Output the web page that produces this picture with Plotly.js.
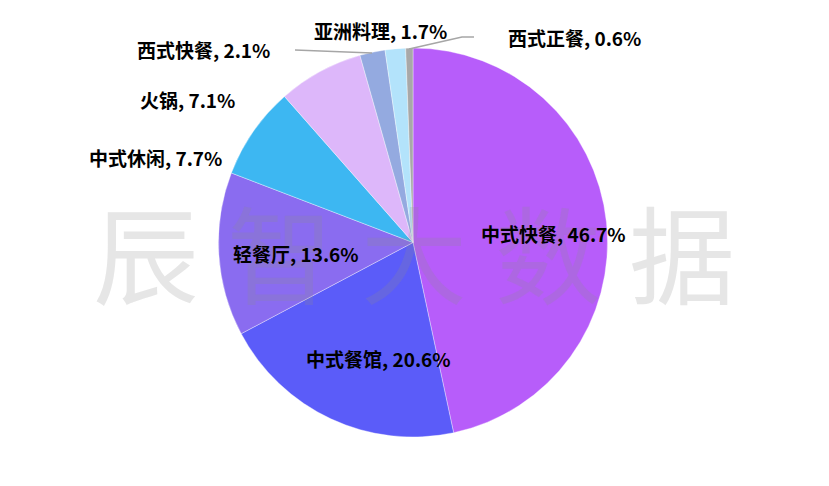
<!DOCTYPE html>
<html>
<head>
<meta charset="utf-8">
<script src="https://cdn.plot.ly/plotly-3.0.1.min.js"></script>
<style>html,body{margin:0;padding:0;background:#fff;}#chart{width:829px;height:486px;}</style>
</head>
<body>
<div id="chart"></div>
<script>
// ---- data ----
var categories = ['中式快餐', '中式餐馆', '轻餐厅', '中式休闲', '火锅', '西式快餐', '亚洲料理', '西式正餐'];
var shares = [46.7, 20.6, 13.6, 7.7, 7.1, 2.1, 1.7, 0.6];
var sliceColors = ['#B75DFA', '#5B5CF9', '#8A6CF0', '#3DB7F2', '#DDB7FA', '#94AAE0', '#B3E3FB', '#A8A8A8'];
var watermarkChars = ['辰', '智', '大', '数', '据'];

// ---- layout helpers (pixel -> paper) ----
var W = 829, H = 486;
function px(x) { return x / W; }
function py(y) { return 1 - y / H; }

var labelText = categories.map(function (c, i) { return c + ', ' + shares[i] + '%'; });

// label positions (pixel centers), index matches categories
var labelPos = [[553, 234], [378, 358], [296, 253], [155, 158], [187, 100], [203, 50], [380, 30], [574, 38]];

var labelFont = {family: '"Noto Sans CJK SC", "Microsoft YaHei", sans-serif', size: 19, color: '#000000', weight: 'bold'};

var annotations = [];
// watermark
watermarkChars.forEach(function (ch, i) {
  annotations.push({
    text: ch, xref: 'paper', yref: 'paper', x: px(146 + i * 134), y: py(250),
    xanchor: 'center', yanchor: 'middle', showarrow: false,
    font: {family: '"Noto Sans CJK SC", sans-serif', size: 106, color: 'rgba(140,140,140,0.22)'}
  });
});
labelPos.forEach(function (p, k) {
  annotations.push({
    text: '<b>' + labelText[k] + '</b>', xref: 'paper', yref: 'paper', x: px(p[0]), y: py(p[1]),
    xanchor: 'center', yanchor: 'middle', showarrow: false, font: labelFont
  });
});

var lineStyle = {color: '#A6A6A6', width: 1.5};
var shapes = [
  {type: 'line', xref: 'paper', yref: 'paper', x0: px(295), y0: py(50), x1: px(372), y1: py(53), line: lineStyle},
  {type: 'path', xref: 'paper', yref: 'paper',
   path: 'M' + px(409) + ',' + py(49) + ' L' + px(462) + ',' + py(37) + ' L' + px(474) + ',' + py(37), line: lineStyle}
];

var trace = {
  type: 'pie',
  labels: categories,
  values: shares,
  sort: false,
  direction: 'clockwise',
  rotation: 0,
  marker: {colors: sliceColors, line: {color: 'rgba(255,255,255,0.6)', width: 0.6}},
  textinfo: 'none',
  textposition: 'none',
  hoverinfo: 'label+value',
  showlegend: false,
  domain: {x: [0, 826 / W], y: [py(437), py(48)]}
};

var layout = {
  width: W, height: H,
  margin: {l: 0, r: 0, t: 0, b: 0},
  paper_bgcolor: '#ffffff',
  showlegend: false,
  annotations: annotations,
  shapes: shapes
};

Plotly.newPlot('chart', [trace], layout, {displayModeBar: false, staticPlot: true});
</script>
</body>
</html>
